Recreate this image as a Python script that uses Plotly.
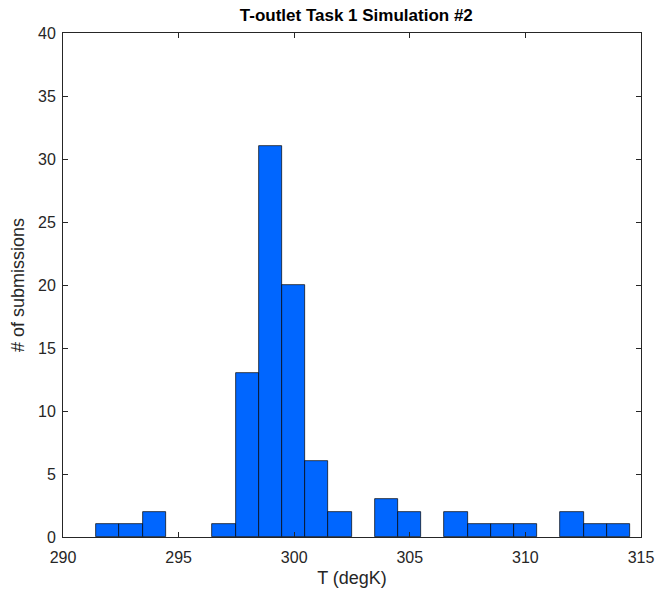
import numpy as np
import plotly.graph_objects as go

# Histogram data
bin_start = 291.44
bin_width = 1.0035
counts = [1, 1, 2, 0, 0, 1, 13, 31, 20, 6, 2, 0, 3, 2, 0, 2, 1, 1, 1, 0, 2, 1, 1]
x_ticks = [290, 295, 300, 305, 310, 315]
y_ticks = [0, 5, 10, 15, 20, 25, 30, 35, 40]

centers = bin_start + bin_width * (np.arange(len(counts)) + 0.5)
heights = [c if c > 0 else None for c in counts]

fig = go.Figure()
fig.add_trace(go.Bar(
    x=centers, y=heights, width=bin_width,
    marker=dict(color="rgb(0,102,255)", line=dict(color="black", width=0.7)),
    showlegend=False,
))

font = "Liberation Sans, Arial, sans-serif"
axis_common = dict(
    showline=True, linecolor="#262626", linewidth=1, mirror="ticks",
    ticks="inside", ticklen=5, tickcolor="#262626",
    showgrid=False, zeroline=False,
    tickfont=dict(family=font, size=16, color="#262626"),
)
fig.update_layout(
    width=666, height=603,
    margin=dict(l=63, r=19, t=33, b=66),
    paper_bgcolor="white", plot_bgcolor="white",
    title=dict(text="<b>T-outlet Task 1 Simulation #2</b>", x=0.535, xanchor="center",
               y=0.985, yanchor="top", font=dict(family=font, size=17, color="black")),
    xaxis=dict(range=[290, 315], tickvals=x_ticks, ticklabelstandoff=6,
               title=dict(text="T (degK)", font=dict(family=font, size=18, color="#262626"), standoff=6),
               **axis_common),
    yaxis=dict(range=[0, 40], tickvals=y_ticks, ticklabelstandoff=3,
               title=dict(text="# of submissions", font=dict(family=font, size=18, color="#262626"), standoff=8),
               **axis_common),
    bargap=0,
)
fig.write_html("out.html")
